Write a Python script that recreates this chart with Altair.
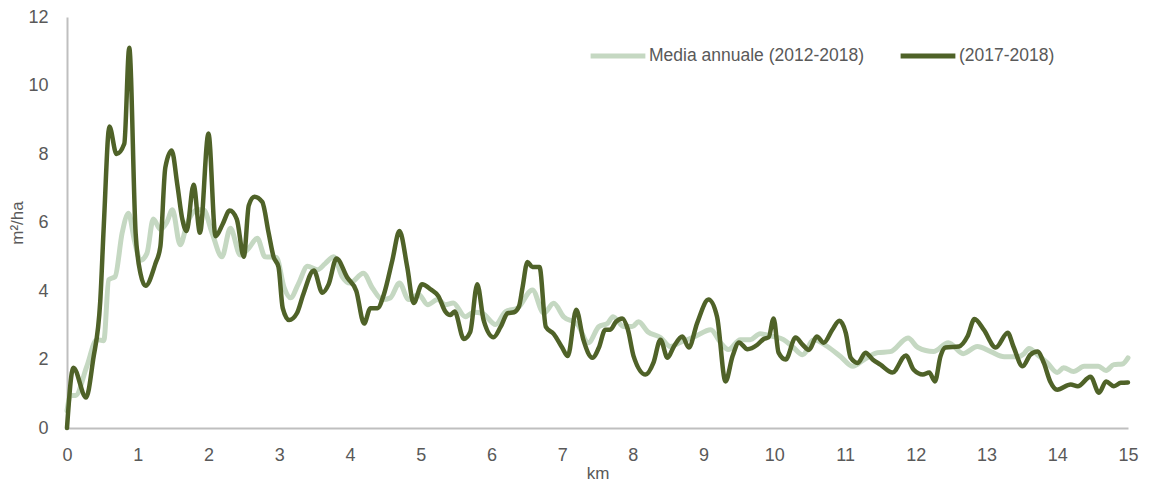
import altair as alt
import pandas as pd

SERIES_MEDIA = "Media annuale (2012-2018)"
SERIES_RECENT = "(2017-2018)"

media_km = [0.00, 0.05, 0.12, 0.28, 0.42, 0.52, 0.59, 0.68, 0.78, 0.87, 0.95, 1.04, 1.13, 1.22,
            1.32, 1.41, 1.49, 1.60, 1.70, 1.84, 1.93, 2.05, 2.19, 2.31, 2.45, 2.57, 2.69, 2.80,
            2.96, 3.07, 3.16, 3.27, 3.40, 3.54, 3.65, 3.77, 3.89, 4.00, 4.19, 4.32, 4.46, 4.57,
            4.70, 4.83, 4.97, 5.10, 5.24, 5.35, 5.46, 5.63, 5.75, 5.87, 6.06, 6.20, 6.37, 6.58,
            6.74, 6.88, 7.02, 7.22, 7.37, 7.52, 7.64, 7.72, 7.87, 7.99, 8.08, 8.21, 8.39, 8.53,
            8.67, 8.88, 9.10, 9.24, 9.35, 9.52, 9.66, 9.80, 9.99, 10.13, 10.27, 10.40, 10.56,
            10.75, 10.94, 11.11, 11.27, 11.46, 11.64, 11.89, 12.03, 12.25, 12.46, 12.67, 12.87,
            13.06, 13.25, 13.44, 13.53, 13.60, 13.72, 13.86, 14.00, 14.09, 14.23, 14.38, 14.58,
            14.69, 14.80, 14.92, 15.00]
media_val = [0.50, 0.95, 0.95, 1.80, 2.58, 2.55, 4.33, 4.42, 5.70, 6.27, 5.50, 4.90, 5.10, 6.10,
             5.80, 6.00, 6.37, 5.35, 5.98, 6.37, 6.37, 5.70, 5.00, 5.83, 5.05, 5.25, 5.54, 5.00,
             4.98, 4.10, 3.80, 4.20, 4.72, 4.62, 4.80, 5.00, 4.42, 4.23, 4.52, 4.08, 3.75, 3.80,
             4.23, 3.75, 3.90, 3.60, 3.75, 3.60, 3.65, 3.25, 3.38, 3.35, 3.02, 3.40, 3.50, 4.03,
             3.35, 3.64, 3.25, 3.02, 2.49, 2.96, 3.05, 3.25, 2.96, 2.96, 3.10, 2.81, 2.64, 2.38,
             2.50, 2.67, 2.87, 2.49, 2.29, 2.58, 2.58, 2.75, 2.67, 2.58, 2.35, 2.14, 2.58,
             2.38, 2.08, 1.80, 2.00, 2.20, 2.23, 2.63, 2.35, 2.23, 2.49, 2.17, 2.38,
             2.23, 2.08, 2.08, 2.17, 2.32, 2.14, 1.90, 1.62, 1.76, 1.65, 1.80, 1.80,
             1.68, 1.85, 1.87, 2.05]

recent_km = [0.00, 0.09, 0.27, 0.37, 0.47, 0.52, 0.60, 0.70, 0.81, 0.88, 0.97, 1.04, 1.11, 1.25,
             1.32, 1.39, 1.48, 1.56, 1.63, 1.69, 1.79, 1.88, 2.00, 2.10, 2.20, 2.30, 2.40, 2.50,
             2.57, 2.65, 2.76, 2.85, 2.92, 2.99, 3.05, 3.14, 3.25, 3.34, 3.49, 3.61, 3.70, 3.81,
             3.96, 4.09, 4.20, 4.29, 4.39, 4.48, 4.60, 4.70, 4.81, 4.90, 5.02, 5.14, 5.25, 5.35,
             5.42, 5.48, 5.61, 5.70, 5.80, 5.89, 6.03, 6.13, 6.23, 6.32, 6.39, 6.44, 6.51, 6.58,
             6.68, 6.77, 6.88, 7.00, 7.08, 7.20, 7.30, 7.43, 7.52, 7.61, 7.68, 7.76, 7.85, 7.93,
             8.01, 8.18, 8.29, 8.39, 8.49, 8.58, 8.70, 8.79, 8.91, 9.07, 9.19, 9.31, 9.41, 9.50,
             9.62, 9.76, 9.85, 9.92, 9.99, 10.06, 10.16, 10.30, 10.40, 10.49, 10.60, 10.70, 10.82,
             10.92, 11.01, 11.08, 11.18, 11.29, 11.39, 11.50, 11.67, 11.86, 11.97, 12.10, 12.19,
             12.27, 12.35, 12.42, 12.61, 12.73, 12.83, 12.96, 13.13, 13.30, 13.38, 13.51, 13.62,
             13.72, 13.81, 13.90, 14.00, 14.19, 14.29, 14.47, 14.59, 14.69, 14.80, 14.90, 15.00]
recent_val = [0.00, 1.76, 0.89, 2.00, 3.70, 5.90, 8.80, 8.00, 8.30, 11.10, 5.70, 4.50, 4.15, 4.80,
              5.30, 7.60, 8.10, 7.10, 6.10, 5.75, 7.10, 5.70, 8.60, 5.60, 5.95, 6.35, 6.10, 5.00,
              6.50, 6.75, 6.60, 5.70, 5.00, 4.70, 3.50, 3.15, 3.35, 3.90, 4.60, 3.95, 4.20, 4.95,
              4.40, 4.00, 3.05, 3.50, 3.50, 3.90, 4.90, 5.75, 4.70, 3.65, 4.20, 4.05, 3.85, 3.40,
              3.30, 3.40, 2.60, 2.80, 4.20, 3.15, 2.65, 2.95, 3.35, 3.38, 3.55, 4.10, 4.85, 4.70,
              4.70, 2.95, 2.75, 2.35, 2.10, 3.45, 2.58, 2.05, 2.35, 2.87, 2.87, 3.10, 3.20, 2.87,
              2.10, 1.56, 1.90, 2.58, 2.05, 2.38, 2.67, 2.35, 3.07, 3.75, 3.25, 1.36, 2.10, 2.50,
              2.30, 2.43, 2.60, 2.65, 3.20, 2.20, 2.00, 2.64, 2.43, 2.28, 2.67, 2.49, 2.87,
              3.13, 2.78, 2.05, 1.90, 2.20, 2.00, 1.85, 1.62, 2.12, 1.70, 1.56, 1.62,
              1.36, 2.10, 2.35, 2.38, 2.67, 3.18, 2.87, 2.35, 2.78, 2.38, 1.80, 2.14,
              2.23, 1.90, 1.36, 1.12, 1.27, 1.22, 1.50, 1.03, 1.36, 1.22, 1.32, 1.33]

x_ticks = list(range(0, 16))
y_ticks = [0, 2, 4, 6, 8, 10, 12]

df_media = pd.DataFrame({"km": media_km, "val": media_val, "serie": SERIES_MEDIA})
df_recent = pd.DataFrame({"km": recent_km, "val": recent_val, "serie": SERIES_RECENT})

FONT = "Liberation Sans"
GREY = "#595959"

color_scale = alt.Scale(domain=[SERIES_MEDIA, SERIES_RECENT], range=["#c5d8c2", "#4f6228"])

x_enc = alt.X("km:Q", scale=alt.Scale(domain=[0, 15], nice=False),
              axis=alt.Axis(values=x_ticks, title="km", format="d", labelFlush=False))
y_enc = alt.Y("val:Q", scale=alt.Scale(domain=[0, 12], nice=False),
              axis=alt.Axis(values=y_ticks, title="m²/ha", format="d"))

legend = alt.Legend(title=None, orient="none", legendX=521, legendY=9, direction="horizontal",
                    symbolType="stroke", symbolSize=3000, symbolStrokeWidth=5,
                    labelFont=FONT, labelFontSize=17.5, labelColor=GREY, labelOffset=1,
                    labelLimit=400, columnPadding=25, symbolOffset=0)

light = alt.Chart(df_media).mark_line(interpolate="monotone", strokeWidth=5, strokeCap="round",
                                      strokeJoin="round").encode(
    x=x_enc, y=y_enc,
    color=alt.Color("serie:N", scale=color_scale, legend=legend),
)
dark = alt.Chart(df_recent).mark_line(interpolate="monotone", strokeWidth=4.5, strokeCap="round",
                                      strokeJoin="round").encode(
    x=x_enc, y=y_enc,
    color=alt.Color("serie:N", scale=color_scale, legend=legend),
)

chart = alt.layer(light, dark).properties(
    width=1061, height=411, padding={"left": 0, "top": 0, "right": 0, "bottom": 0}
).configure_view(stroke=None).configure_axis(
    grid=False, ticks=False, domainColor="#bfbfbf", domainWidth=2,
    labelFont=FONT, labelFontSize=18, labelColor=GREY, labelPadding=18,
    titleFont=FONT, titleFontSize=17, titleColor=GREY, titleFontWeight="normal",
).configure_axisY(labelPadding=19, titlePadding=1).configure_axisX(titlePadding=1)

chart.save("out.html", embed_options={"renderer": "svg", "actions": False})
